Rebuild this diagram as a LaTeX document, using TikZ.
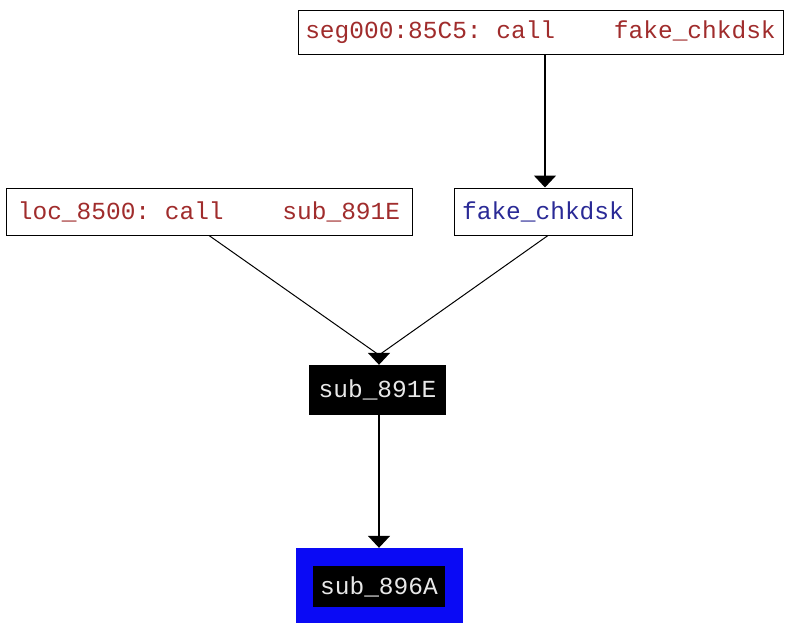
\documentclass[tikz,border=0pt]{standalone}
\usepackage{fontspec}
\setmonofont{Liberation Mono}
\usetikzlibrary{arrows.meta}
\definecolor{idared}{HTML}{A02C2C}
\definecolor{idablue}{HTML}{2A2A96}
\definecolor{boxtext}{HTML}{E8E8E8}
\definecolor{selblue}{HTML}{0A0AF5}
\tikzset{
  x=1pt,y=-1pt,
  txt/.style={font=\ttfamily\fontsize{24.5}{26}\selectfont, inner sep=0pt, anchor=center},
  refbox/.style={txt, draw=black, line width=1pt, fill=white},
  funcbox/.style={txt, fill=black, text=boxtext},
  conn/.style={line width=1pt, draw=black},
  tip/.style={draw=black, line width=1.6pt, -{Triangle[width=22pt,length=12pt]}},
}
\begin{document}
\begin{tikzpicture}
\useasboundingbox (0,0) rectangle (788,622);
\node[refbox, text=idared, minimum width=485pt, minimum height=44pt] (top) at (540.5,32) {seg000:85C5: call~~~~fake\_chkdsk};
\node[refbox, text=idared, minimum width=406pt, minimum height=47pt] (loc) at (209,211.5) {loc\_8500: call~~~~sub\_891E};
\node[refbox, text=idablue, minimum width=178pt, minimum height=47pt] (fake) at (543,211.5) {fake\_chkdsk};
\node[funcbox, minimum width=137pt, minimum height=50pt] (s1) at (377.5,390) {sub\_891E};
\node[fill=selblue, minimum width=167pt, minimum height=76pt, inner sep=0pt] (sel) at (379,586) {};
\node[funcbox, minimum width=132pt, minimum height=41pt] (s2) at (379,586.5) {sub\_896A};
\coordinate (m) at (379,355);
\draw[tip] ([xshift=4.5pt]top.south) -- ([xshift=2pt]fake.north);
\draw[conn] (loc.south) -- (m);
\draw[conn] ([xshift=5pt]fake.south) -- (m);
\draw[tip] (m) -- (m |- s1.north);
\draw[tip] (s1.south -| m) -- (m |- sel.north);
\end{tikzpicture}
\end{document}
